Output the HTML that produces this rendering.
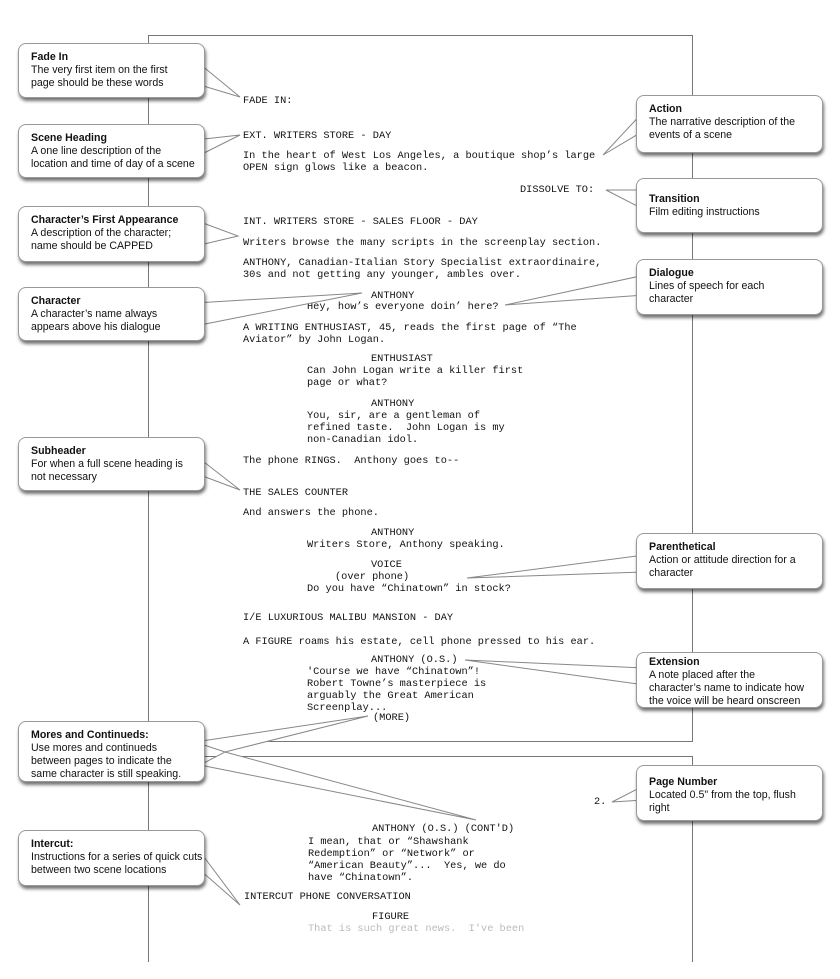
<!DOCTYPE html>
<html><head><meta charset="utf-8"><style>
html,body{margin:0;padding:0;background:#fff;width:840px;height:979px;overflow:hidden;position:relative}
.pg{position:absolute;background:#fff;border:1px solid #777;box-sizing:border-box}
.t{position:absolute;font-family:"Liberation Mono",monospace;font-size:10.3px;line-height:12px;color:#111;white-space:pre}
.b{position:absolute;background:#fff;border:1px solid #999;border-radius:8px;box-shadow:1px 3px 3px rgba(0,0,0,.55);font-family:"Liberation Sans",sans-serif;font-size:10.6px;line-height:13px;color:#111;padding:7px 3px 0 12px;box-sizing:border-box;width:187px;white-space:nowrap}
.b b{display:block}
svg{position:absolute;left:0;top:0}
</style></head><body>
<div class="pg" style="left:148px;top:35px;width:545px;height:707px"></div>
<div class="pg" style="left:148px;top:756px;width:545px;height:206px;border-bottom:none"></div>

<div class="t" style="left:243px;top:95px">FADE IN:</div>
<div class="t" style="left:243px;top:130px">EXT. WRITERS STORE - DAY</div>
<div class="t" style="left:243px;top:150px">In the heart of West Los Angeles, a boutique shop’s large
OPEN sign glows like a beacon.</div>
<div class="t" style="left:520px;top:184px">DISSOLVE TO:</div>
<div class="t" style="left:243px;top:216px">INT. WRITERS STORE - SALES FLOOR - DAY</div>
<div class="t" style="left:243px;top:237px">Writers browse the many scripts in the screenplay section.</div>
<div class="t" style="left:243px;top:257px">ANTHONY, Canadian-Italian Story Specialist extraordinaire,
30s and not getting any younger, ambles over.</div>
<div class="t" style="left:371px;top:290px">ANTHONY</div>
<div class="t" style="left:307px;top:301px">Hey, how’s everyone doin’ here?</div>
<div class="t" style="left:243px;top:322px">A WRITING ENTHUSIAST, 45, reads the first page of “The
Aviator” by John Logan.</div>
<div class="t" style="left:371px;top:353px">ENTHUSIAST</div>
<div class="t" style="left:307px;top:365px">Can John Logan write a killer first
page or what?</div>
<div class="t" style="left:371px;top:398px">ANTHONY</div>
<div class="t" style="left:307px;top:410px">You, sir, are a gentleman of
refined taste.  John Logan is my
non-Canadian idol.</div>
<div class="t" style="left:243px;top:455px">The phone RINGS.  Anthony goes to--</div>
<div class="t" style="left:243px;top:487px">THE SALES COUNTER</div>
<div class="t" style="left:243px;top:507px">And answers the phone.</div>
<div class="t" style="left:371px;top:527px">ANTHONY</div>
<div class="t" style="left:307px;top:539px">Writers Store, Anthony speaking.</div>
<div class="t" style="left:371px;top:559px">VOICE</div>
<div class="t" style="left:335px;top:571px">(over phone)</div>
<div class="t" style="left:307px;top:583px">Do you have “Chinatown” in stock?</div>
<div class="t" style="left:243px;top:612px">I/E LUXURIOUS MALIBU MANSION - DAY</div>
<div class="t" style="left:243px;top:636px">A FIGURE roams his estate, cell phone pressed to his ear.</div>
<div class="t" style="left:371px;top:654px">ANTHONY (O.S.)</div>
<div class="t" style="left:307px;top:666px">'Course we have “Chinatown”!
Robert Towne’s masterpiece is
arguably the Great American
Screenplay...</div>
<div class="t" style="left:373px;top:712px">(MORE)</div>
<div class="t" style="left:594px;top:796px">2.</div>
<div class="t" style="left:372px;top:823px">ANTHONY (O.S.) (CONT'D)</div>
<div class="t" style="left:308px;top:836px">I mean, that or “Shawshank
Redemption” or “Network” or
“American Beauty”...  Yes, we do
have “Chinatown”.</div>
<div class="t" style="left:244px;top:891px">INTERCUT PHONE CONVERSATION</div>
<div class="t" style="left:372px;top:911px">FIGURE</div>
<div class="t" style="left:308px;top:923px;color:#bbb">That is such great news.  I've been</div>
<div style="position:absolute;left:149px;top:935px;width:543px;height:44px;background:#fff"></div>

<svg width="840" height="979">
<g fill="#fff" stroke="#888" stroke-width="1">
<polygon points="195,60 240,97 200,85"/>
<polygon points="195,140 240,135 200,155"/>
<polygon points="195,220 238,236 200,245"/>
<polygon points="195,303 362,293 200,325"/>
<polygon points="195,455 240,490 200,475"/>
<polygon points="195,742 368,716 225,752"/>
<polygon points="225,752 476,820 200,765"/>
<polygon points="195,845 240,905 200,870"/>
<polygon points="645,110 603,155 645,130"/>
<polygon points="645,190 606,190 645,210"/>
<polygon points="645,275 505,305 645,295"/>
<polygon points="645,555 467,578 645,572"/>
<polygon points="645,668 465,660 645,685"/>
<polygon points="645,785 612,802 645,800"/>
</g>
</svg>

<div class="b" style="left:18px;top:43px;height:55px"><b>Fade In</b>The very first item on the first<br>page should be these words</div>
<div class="b" style="left:18px;top:124px;height:54px"><b>Scene Heading</b>A one line description of the<br>location and time of day of a scene</div>
<div class="b" style="left:18px;top:206px;height:56px"><b>Character’s First Appearance</b>A description of the character;<br>name should be CAPPED</div>
<div class="b" style="left:18px;top:287px;height:54px"><b>Character</b>A character’s name always<br>appears above his dialogue</div>
<div class="b" style="left:18px;top:437px;height:54px"><b>Subheader</b>For when a full scene heading is<br>not necessary</div>
<div class="b" style="left:18px;top:721px;height:61px"><b>Mores and Continueds:</b>Use mores and continueds<br>between pages to indicate the<br>same character is still speaking.</div>
<div class="b" style="left:18px;top:830px;height:56px"><b>Intercut:</b>Instructions for a series of quick cuts<br>between two scene locations</div>
<div class="b" style="left:636px;top:95px;height:58px"><b>Action</b>The narrative description of the<br>events of a scene</div>
<div class="b" style="left:636px;top:178px;height:55px;padding-top:14px"><b>Transition</b>Film editing instructions</div>
<div class="b" style="left:636px;top:259px;height:56px"><b>Dialogue</b>Lines of speech for each<br>character</div>
<div class="b" style="left:636px;top:533px;height:56px"><b>Parenthetical</b>Action or attitude direction for a<br>character</div>
<div class="b" style="left:636px;top:652px;height:56px;padding-top:3px"><b>Extension</b>A note placed after the<br>character’s name to indicate how<br>the voice will be heard onscreen</div>
<div class="b" style="left:636px;top:765px;height:56px;padding-top:10px"><b>Page Number</b>Located 0.5" from the top, flush<br>right</div>
</body></html>
